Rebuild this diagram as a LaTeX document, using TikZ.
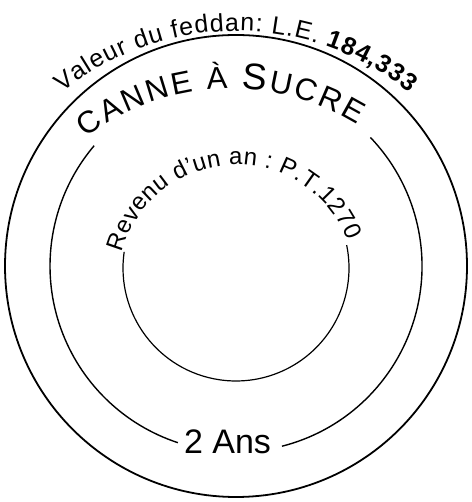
\documentclass[tikz,border=0pt]{standalone}
\usepackage{fontspec}
\setmainfont{Liberation Sans}
\usetikzlibrary{decorations.text}
\begin{document}
\begin{tikzpicture}[x=1pt,y=1pt,
  outerring/.style={line width=1.8pt},
  midring/.style={line width=1.4pt},
  innerring/.style={line width=1.2pt},
  arctext/.style={decorate, decoration={text along path, text align=fit to path, text={#1}}}
]
\useasboundingbox (0,0) rectangle (471,502);
\coordinate (O) at (236,236);
\coordinate (Oi) at (236,234);
\coordinate (OV) at (236,195);
\coordinate (OC) at (231,172);
\coordinate (OR) at (236.7,218.4);

\draw[outerring] (O) circle[radius=231];
\draw[midring] ([shift={(139.7:186)}]O) arc[start angle=139.7, end angle=251.8, radius=186];
\draw[midring] ([shift={(284.3:186)}]O) arc[start angle=284.3, end angle=403.7, radius=186];
\draw[innerring] ([shift={(171.8:113)}]Oi) arc[start angle=171.8, end angle=371.7, radius=113];

\path[arctext={|\fontsize{25}{30}\selectfont|Valeur du feddan: L.E. |\fontsize{25}{30}\selectfont\bfseries|184,333}]
  ([shift={(129:276)}]OV) arc[start angle=129, end angle=51, radius=276];
\path[arctext={|\fontsize{31}{36}\selectfont|CANNE À |\fontsize{37}{42}\selectfont|S|\fontsize{31}{36}\selectfont|UCRE}]
  ([shift={(127:241)}]OC) arc[start angle=127, end angle=58.5, radius=241];
\path[arctext={|\fontsize{24}{28}\selectfont|Revenu d'un an : P.T.1270}]
  ([shift={(165:118.8)}]OR) arc[start angle=165, end angle=21, radius=118.8];

\node[font=\fontsize{34}{40}\selectfont, inner sep=0pt] (ans) at (227.5,60) {2 Ans};
\end{tikzpicture}
\end{document}
